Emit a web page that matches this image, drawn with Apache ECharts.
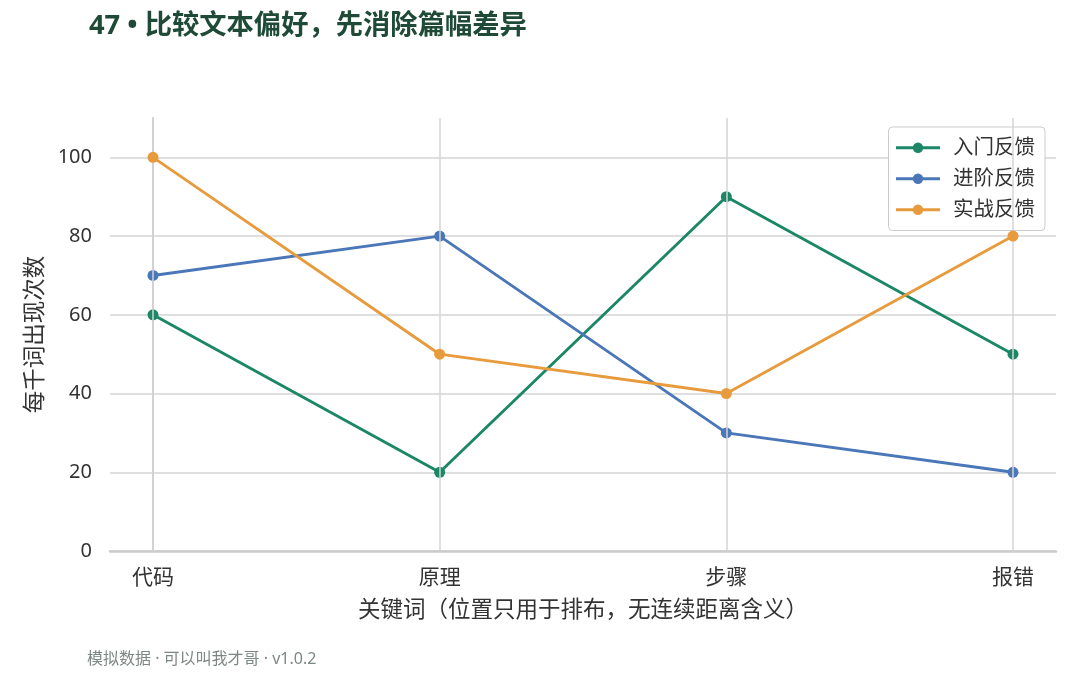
<!DOCTYPE html>
<html><head><meta charset="utf-8">
<script src="https://cdn.jsdelivr.net/npm/echarts@6/dist/echarts.min.js"></script>
<style>html,body{margin:0;padding:0;background:#fff}#c{width:1080px;height:675px}</style>
</head><body><div id="c"></div>
<script>
const categories = ['代码', '原理', '步骤', '报错'];
const seriesNames = ['入门反馈', '进阶反馈', '实战反馈'];
const introValues = [60, 20, 90, 50];
const advancedValues = [70, 80, 30, 20];
const practiceValues = [100, 50, 40, 80];
const yTicks = [0, 20, 40, 60, 80, 100];
const colors = ['#1b8766', '#4a77b7', '#e89b3c'];

const font = '"Noto Sans", "Noto Sans CJK SC", sans-serif';
const idx = categories.map((_, i) => i);
function pts(vals) { return vals.map((v, i) => [i, v]); }
const allVals = [introValues, advancedValues, practiceValues];

const chart = echarts.init(document.getElementById('c'));
chart.setOption({
  backgroundColor: '#fff',
  animation: false,
  textStyle: { fontFamily: font },
  title: {
    text: '47 • 比较文本偏好，先消除篇幅差异',
    left: 84, top: 8,
    textStyle: { fontSize: 27.3, fontWeight: 'bold', color: '#1f4a38', fontFamily: font }
  },
  graphic: [{
    type: 'text', left: 87, top: 651,
    style: { text: '模拟数据 · 可以叫我才哥 · v1.0.2', fill: '#7d8783', fontSize: 16, fontFamily: font }
  }],
  legend: {
    orient: 'vertical', right: 35, top: 127,
    itemWidth: 44, itemHeight: 13, itemGap: 10.5,
    padding: [10.5, 10, 10.5, 6],
    borderColor: '#cccccc', borderWidth: 1, borderRadius: 4,
    backgroundColor: '#fff',
    lineStyle: { width: 3 },
    textStyle: { fontSize: 20.5, color: '#333', fontFamily: font, padding: [0, 0, 0, 8] },
    data: seriesNames
  },
  grid: { left: 110, right: 24, top: 118, bottom: 124, containLabel: false },
  xAxis: {
    type: 'value', min: -0.15, max: categories.length - 1 + 0.15,
    name: '关键词（位置只用于排布，无连续距离含义）',
    nameLocation: 'middle', nameGap: 48,
    nameTextStyle: { fontSize: 22.5, color: '#333', fontFamily: font },
    axisLine: { show: true, lineStyle: { color: '#cccccc', width: 2.5 } },
    axisTick: { show: false, customValues: idx },
    axisLabel: { customValues: idx, formatter: v => categories[Math.round(v)] || '', fontSize: 21, color: '#333', margin: 17, fontFamily: font },
    splitLine: { show: false }
  },
  yAxis: {
    type: 'value', min: 0, max: 110, interval: 20,
    name: '每千词出现次数', nameLocation: 'middle', nameGap: 63,
    nameTextStyle: { fontSize: 22.5, color: '#333', fontFamily: font },
    axisLine: { show: true, lineStyle: { color: '#cccccc', width: 2 } },
    axisTick: { show: false },
    axisLabel: { fontSize: 20, color: '#333', margin: 18, showMaxLabel: false, fontFamily: font,
      formatter: v => yTicks.indexOf(v) >= 0 ? String(v) : '' },
    splitLine: { show: true, showMaxLine: false, lineStyle: { color: '#d5d5d5', width: 1.5 } }
  },
  series: seriesNames.map((n, k) => ({
    name: n, type: 'line', data: pts(allVals[k]),
    symbol: 'circle', symbolSize: 11,
    lineStyle: { width: 2.9, color: colors[k] },
    itemStyle: { color: colors[k] },
    z: 3 + k,
    markLine: k === 0 ? {
      silent: true, symbol: 'none', label: { show: false },
      lineStyle: { color: '#d5d5d5', width: 1.5, type: 'solid' },
      data: idx.map(i => ({ xAxis: i }))
    } : undefined
  }))
});
</script></body></html>
